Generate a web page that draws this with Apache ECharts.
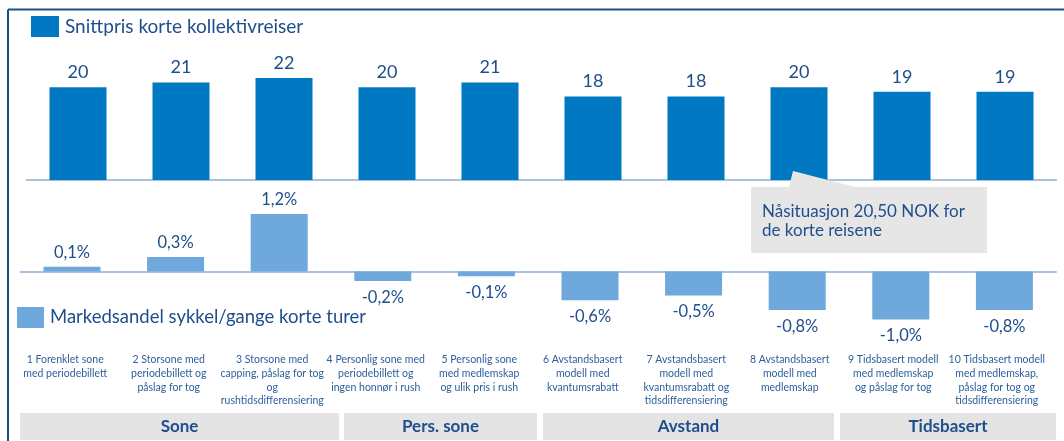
<!DOCTYPE html>
<html>
<head>
<meta charset="utf-8">
<script src="https://cdn.jsdelivr.net/npm/echarts@6/dist/echarts.min.js"></script>
<style>
  html, body { margin: 0; padding: 0; background: #ffffff; }
  #chart { width: 1064px; height: 441px; }
</style>
</head>
<body>
<div id="chart"></div>
<script>
// Scenario names (line breaks as they appear under each pair of bars)
const categories = [
  '1 Forenklet sone\nmed periodebillett',
  '2 Storsone med\nperiodebillett og\npåslag for tog',
  '3 Storsone med\ncapping, påslag for tog\nog\nrushtidsdifferensiering',
  '4 Personlig sone med\nperiodebillett og\ningen honnør i rush',
  '5 Personlig sone\nmed medlemskap\nog ulik pris i rush',
  '6 Avstandsbasert\nmodell med\nkvantumsrabatt',
  '7 Avstandsbasert\nmodell med\nkvantumsrabatt og\ntidsdifferensiering',
  '8 Avstandsbasert\nmodell med\nmedlemskap',
  '9 Tidsbasert modell\nmed medlemskap\nog påslag for tog',
  '10 Tidsbasert modell\nmed medlemskap,\npåslag for tog og\ntidsdifferensiering'
];

// Average price for short public transport trips (NOK)
const priceName = 'Snittpris korte kollektivreiser';
const priceValues = [20, 21, 22, 20, 21, 18, 18, 20, 19, 19];

// Change in bike/walk market share for short trips (percentage points)
const shareName = 'Markedsandel sykkel/gange korte turer';
const shareValues = [0.1, 0.3, 1.2, -0.2, -0.1, -0.6, -0.5, -0.8, -1.0, -0.8];

// Scenario groups shown in the bottom row
const groupNames = ['Sone', 'Pers. sone', 'Avstand', 'Tidsbasert'];

// Callout text
const calloutText = 'Nåsituasjon 20,50 NOK for\nde korte reisene';

// ---- layout / style ----
const FONT = 'Lato, "Open Sans", sans-serif';
const NAVY = '#1F4E8C';
const LABEL_BLUE = '#2C5F9C';
const BAR_DARK = '#0079C2';
const BAR_LIGHT = '#6FA8DC';
const AXIS_LINE = '#8DB0D3';
const BOX_GREY = '#E4E4E4';

// Group cell extents in pixels [left, right]
const groupCells = [[20, 339], [344, 537], [543, 834], [840, 1056]];

const chart = echarts.init(document.getElementById('chart'), null, { renderer: 'canvas' });

const fmtPct = v => v.toFixed(1).replace('.', ',') + '%';

const option = {
  backgroundColor: '#ffffff',
  animation: false,
  textStyle: { fontFamily: FONT },
  legend: [
    {
      data: [priceName],
      left: 31, top: 16, padding: 0,
      itemWidth: 28, itemHeight: 21, itemGap: 6,
      icon: 'rect',
      selectedMode: false,
      textStyle: { fontFamily: FONT, fontSize: 19, color: NAVY, padding: [0, 0, 0, 1] }
    },
    {
      data: [shareName],
      left: 17, top: 307, padding: 0,
      itemWidth: 27, itemHeight: 21, itemGap: 6,
      icon: 'rect',
      selectedMode: false,
      textStyle: { fontFamily: FONT, fontSize: 18.5, color: NAVY, padding: [0, 0, 0, 1] }
    }
  ],
  grid: [
    { left: 26.5, width: 1030, top: 64, height: 116 },
    { left: 20.2, width: 1036, top: 199.5, height: 144 },
    { left: 13.5, width: 1035, top: 340, height: 4 }
  ],
  xAxis: [
    {
      gridIndex: 0, type: 'category', data: categories,
      axisLine: { lineStyle: { color: AXIS_LINE, width: 1.5 } },
      axisTick: { show: false }, axisLabel: { show: false }, splitLine: { show: false }
    },
    {
      gridIndex: 1, type: 'category', data: categories,
      axisLine: { onZero: true, lineStyle: { color: AXIS_LINE, width: 1.5 } },
      axisTick: { show: false }, axisLabel: { show: false }, splitLine: { show: false }
    },
    {
      gridIndex: 2, type: 'category', data: categories, position: 'bottom',
      axisLine: { show: false }, axisTick: { show: false }, splitLine: { show: false },
      axisLabel: {
        interval: 0, margin: 9,
        fontFamily: FONT, fontSize: 10.5, lineHeight: 13.7, color: LABEL_BLUE,
        align: 'center', verticalAlign: 'top'
      }
    }
  ],
  yAxis: [
    { gridIndex: 0, type: 'value', min: 0, max: 25, show: false },
    { gridIndex: 1, type: 'value', min: -1.5, max: 1.5, show: false },
    { gridIndex: 2, type: 'value', min: 0, max: 1, show: false }
  ],
  series: [
    {
      name: priceName, type: 'bar', xAxisIndex: 0, yAxisIndex: 0,
      data: priceValues, barWidth: 57,
      itemStyle: { color: BAR_DARK },
      label: {
        show: true, position: 'top', distance: 6,
        fontFamily: FONT, fontSize: 18, color: NAVY,
        formatter: p => String(p.value)
      }
    },
    {
      name: shareName, type: 'bar', xAxisIndex: 1, yAxisIndex: 1,
      data: shareValues.map(v => ({
        value: v,
        label: { position: v >= 0 ? 'top' : 'bottom', distance: v >= 0 ? 6 : 8 }
      })),
      barWidth: 57,
      itemStyle: { color: BAR_LIGHT },
      label: {
        show: true,
        fontFamily: FONT, fontSize: 16.5, color: NAVY,
        formatter: p => fmtPct(p.value)
      }
    }
  ],
  graphic: [
    // frame lines
    { type: 'line', shape: { x1: 8, y1: 9.5, x2: 1064, y2: 9.5 }, style: { stroke: '#1F4E87', lineWidth: 2 }, silent: true },
    { type: 'line', shape: { x1: 8, y1: 9.5, x2: 8, y2: 441 }, style: { stroke: '#1F4E87', lineWidth: 2 }, silent: true },
    // group cells with their titles
    ...groupNames.map((name, i) => ({
      type: 'group',
      children: [
        {
          type: 'rect',
          shape: { x: groupCells[i][0], y: 413, width: groupCells[i][1] - groupCells[i][0], height: 27 },
          style: { fill: BOX_GREY }
        },
        {
          type: 'text',
          x: (groupCells[i][0] + groupCells[i][1]) / 2, y: 426.5,
          style: {
            text: name, fill: NAVY, font: 'bold 17px ' + FONT,
            align: 'center', verticalAlign: 'middle'
          }
        }
      ]
    })),
    // callout box with pointer towards the bars
    {
      type: 'polygon', z: 10,
      shape: { points: [[751, 187], [789, 187], [793, 171], [855, 187], [987, 187], [987, 253], [751, 253]] },
      style: { fill: '#E6E6E6' }
    },
    {
      type: 'text', z: 11,
      x: 762, y: 202,
      style: {
        text: calloutText, fill: NAVY, font: '17px ' + FONT,
        lineHeight: 19, align: 'left', verticalAlign: 'top'
      }
    }
  ]
};

chart.setOption(option);
</script>
</body>
</html>
